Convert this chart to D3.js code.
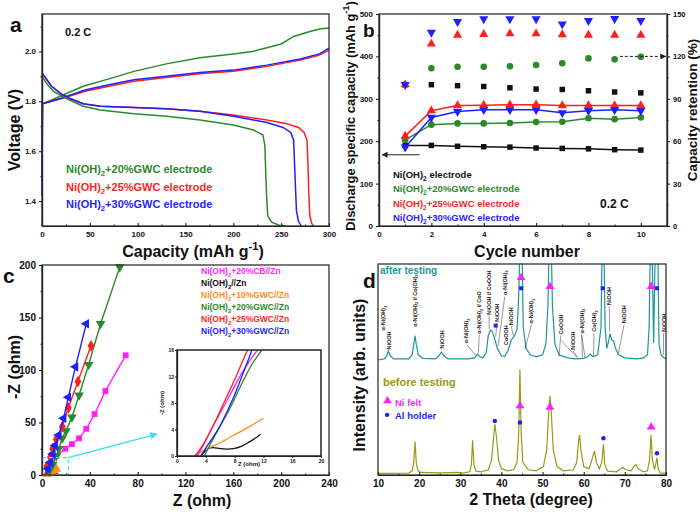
<!DOCTYPE html>
<html>
<head>
<meta charset="utf-8">
<script src="https://cdn.jsdelivr.net/npm/d3@7"></script>
<style>
  body { margin: 0; background: #fff; }
  svg { font-family: "Liberation Sans", Arial, sans-serif; font-weight: bold; }
</style>
</head>
<body>
<div id="fig"></div>
<script>
// ---------- panel a : charge / discharge curves [capacity, voltage] ----------
const greenCharge = [[0,1.5],[0.5,1.79],[10,1.805],[19,1.82],[43,1.86],[70,1.89],[96,1.92],[130,1.95],[165,1.975],[200,1.99],[220,2.0],[235,2.015],[250,2.03],[263,2.06],[280,2.08],[290,2.09],[300,2.094]];
const redCharge = [[0,1.5],[0.5,1.79],[20,1.81],[45,1.84],[70,1.86],[96,1.88],[130,1.895],[165,1.91],[200,1.92],[235,1.94],[270,1.965],[290,1.985],[300,2.005]];
const blueCharge = [[0,1.42],[0.5,1.79],[20,1.812],[45,1.845],[70,1.866],[96,1.886],[130,1.9],[165,1.915],[200,1.925],[235,1.945],[270,1.97],[290,1.99],[300,2.013]];
const greenDis = [[0,1.9],[5,1.87],[12,1.84],[26,1.81],[43,1.78],[61,1.765],[96,1.75],[130,1.74],[165,1.725],[200,1.705],[221,1.685],[231,1.665],[233,1.62],[234,1.5],[235,1.4],[236,1.34],[240,1.315],[248,1.303],[255,1.3]];
const blueDis = [[0,1.915],[10,1.86],[20,1.83],[30,1.81],[43,1.79],[61,1.78],[96,1.775],[130,1.77],[165,1.76],[200,1.74],[235,1.715],[252,1.695],[260,1.675],[263,1.645],[264,1.55],[265,1.45],[266,1.36],[268,1.32],[271,1.3]];
const redDis = [[0,1.91],[10,1.86],[20,1.83],[30,1.81],[43,1.79],[61,1.78],[96,1.775],[130,1.77],[165,1.76],[200,1.745],[235,1.725],[256,1.71],[268,1.695],[274,1.675],[277,1.645],[278,1.55],[279,1.42],[280,1.34],[282,1.31],[284,1.3]];
const legendA = ["Ni(OH)<sub>2</sub>+20%GWC electrode", "Ni(OH)<sub>2</sub>+25%GWC electrode", "Ni(OH)<sub>2</sub>+30%GWC electrode"];

// ---------- panel b : cycling ----------
const cycles = [1,2,3,4,5,6,7,8,9,10];
const capBlack = [190,190,188,187,186,184,183,182,180,179];
const capGreen = [203,239,242,242,243,245,246,254,252,256];
const capRed   = [212,272,284,285,286,286,284,284,284,284];
const capBlue  = [186,256,270,274,274,274,267,272,274,272];
const retBlack = [100,100,99.3,98.7,97.8,96.9,96.6,95.7,94.8,94.2];
const retGreen = [null,111.6,112.7,112.7,113,113.9,115.1,118.6,117.9,119.8];
const retRed   = [100,128.8,135.1,135.6,136.1,136.1,135.4,135.1,135.1,135.1];
const retBlue  = [100,137,144.6,146.5,146.5,146.5,142.9,145.3,146.7,145.3];
const legendB = ["Ni(OH)<sub>2</sub> electrode", "Ni(OH)<sub>2</sub>+20%GWC electrode", "Ni(OH)<sub>2</sub>+25%GWC electrode", "Ni(OH)<sub>2</sub>+30%GWC electrode"];

// ---------- panel c : Nyquist [Z, -Z] ----------
const nyqMagenta = [[3,0],[5,5],[8,12],[12,18],[19.5,25],[25,29.5],[31,35],[37,44],[44,58],[53,80],[70,114]];
const nyqBlack   = [[3.3,0],[4.5,1.1],[7,1],[9,1.5],[11.6,3.3]];
const nyqOrange  = [[2.4,0],[4,1],[6,2],[8,3.2],[10,4.4],[12,5.7]];
const nyqGreen   = [[3.8,0],[6,4],[9,10],[12,18],[14,25],[17,35],[20,42],[25,55],[31,76],[39,105],[49,144],[65,198]];
const nyqRed     = [[2.5,0],[4,8],[7,17],[9,25],[12,34],[17,46],[22,64],[30,89],[41,123]];
const nyqBlue    = [[3.3,0],[5,6],[7,12],[9,20],[11,28],[14,38],[18,54],[22,74],[28,103],[37,144]];
// inset (zoom of low Z region)
const insBlack   = [[3.3,0],[3.8,0.6],[4.3,1.1],[5,1.25],[6,1.1],[7,1.05],[8,1.15],[9,1.5],[10,2.1],[11,2.8],[11.6,3.3]];
const insOrange  = [[2.4,0],[3,0.4],[4,1.0],[6,2.0],[8,3.2],[10,4.4],[12,5.7]];
const insMagenta = [[2.8,0],[3.5,1.3],[4.5,3.5],[6,6.5],[7.5,9.5],[9,12.5],[10.5,15],[11.2,16]];
const insRed     = [[2.5,0],[3.5,1.5],[5,4.5],[6.5,8],[8,11.5],[9.3,14.8],[9.8,16]];
const insBlue    = [[3.3,0],[4,1.2],[5,2.8],[6,4.6],[7,6.8],[8,9.2],[9,12],[10,14.8],[10.4,16]];
const insGreen   = [[3.8,0],[4.5,1.5],[5.5,3.5],[6.5,5.5],[7.5,7.5],[8.5,9.8],[9.5,12],[10.5,14],[11.8,16]];
const legendC = ["Ni(OH)<sub>2</sub>+20%CB//Zn", "Ni(OH)<sub>2</sub>//Zn", "Ni(OH)<sub>2</sub>+10%GWC//Zn", "Ni(OH)<sub>2</sub>+20%GWC//Zn", "Ni(OH)<sub>2</sub>+25%GWC//Zn", "Ni(OH)<sub>2</sub>+30%GWC//Zn"];

// ---------- panel d : XRD [2theta, intensity (arb.)] ----------
const xrdBefore = [[10,0.8],[17.5,0.9],[18.3,2],[18.7,6],[19.0,16],[19.3,6],[19.7,2],[20.5,1.2],[25,1],[29.5,1.2],[30,0.8],[32.3,1.5],[32.7,5],[33.0,16.5],[33.3,5],[33.8,1.8],[35,1.5],[36.8,2.5],[37.6,7],[38.1,18],[38.4,24],[38.8,18],[39.3,7],[40,3],[41.5,2],[43,2.5],[43.8,6],[44.2,20],[44.5,50],[44.8,20],[45.2,6],[46.5,2.5],[48.5,2],[50.2,4],[51.0,12],[51.5,30],[51.8,37.5],[52.1,30],[52.6,12],[53.5,4],[55,2],[57.5,2.5],[58.3,6],[58.8,17],[59.0,19],[59.3,12],[60,4],[61.3,3],[62.1,8],[62.6,11.5],[63.1,6],[63.8,3],[64.4,6],[64.8,14.7],[65.1,5],[65.8,1.8],[68,1.5],[69,3],[69.5,3.7],[70.2,2.5],[71.5,2],[72.4,4.5],[72.7,5],[73.2,3],[74.5,1.5],[75.5,2],[76.0,7],[76.35,19],[76.7,7],[77.2,2.5],[77.6,6],[77.8,8.2],[78.1,3],[78.6,1],[80,0.8]];
const xrdAfter = [[10,54.5],[11.5,55],[12.0,56],[12.5,58.8],[13.0,56.5],[13.8,55],[17.5,55],[18.3,57],[18.7,62],[19.0,66],[19.3,62],[19.8,57],[20.8,55.3],[24,55],[24.8,56.5],[25.4,58.3],[26.0,56.5],[27,55],[32,55],[33.5,55.5],[34.2,57.3],[34.8,56],[35.5,55.5],[36.3,58],[36.8,66],[37.3,68.7],[37.8,68],[38.3,65],[39.0,60],[40.0,56.5],[40.8,56.2],[41.6,59],[42.4,64],[43.2,66],[43.8,69],[44.2,85],[44.5,110],[45.0,110],[45.3,70],[46.0,60],[47,57],[48.5,56],[50.0,57],[50.8,62],[51.3,80],[51.6,110],[52.1,110],[52.4,80],[53.0,62],[54,57],[56,55.5],[58,55],[60,55.3],[61,56],[61.6,57.4],[62.2,56],[63.4,57],[64.2,70],[64.5,110],[64.9,110],[65.2,70],[65.6,60],[66.0,63],[66.4,67],[66.8,64],[67.3,63.5],[67.7,60],[68.5,57],[70,55.5],[73,55],[74.5,55.5],[75.5,57],[75.9,70],[76.2,110],[76.6,110],[77.0,62.5],[77.4,110],[78.0,110],[78.3,62],[78.8,57],[79.5,55.5],[80,55]];
const niFeltBefore = [[44.5,32.4],[51.8,31.8],[76.4,22.4]];
const alBefore = [[38.4,25.6],[44.5,24.9],[64.8,17.4],[77.8,10.3]];
const niFeltAfter = [[44.8,93.2],[51.8,89],[76.4,89]];
const alAfter = [[44.8,88.5],[38.6,70.8],[64.6,88.5],[77.8,88.5]];
// peak labels: text, 2theta, intensity at label start
const peakText = ["NiOOH","α-Ni(OH)<sub>2</sub>","α-Ni(OH)<sub>2</sub> // Co(OH)<sub>2</sub>","NiOOH","α-Ni(OH)<sub>2</sub>","α-Ni(OH)<sub>2</sub> // CoO","NiOOH // CoOOH","NiOOH","α-Ni(OH)<sub>2</sub>","CoOOH","NiOOH","α-Ni(OH)<sub>2</sub>","CoOOH","NiOOH","α-Ni(OH)<sub>2</sub>","Co(OH)<sub>2</sub>","NiOOH","NiOOH","NiOOH"];
const peakX = [12.6,11.3,18.9,25.5,31.4,34.6,37.0,38.9,40.8,41.0,42.4,47.3,54.4,57.4,59.5,62.5,66.2,69.8,79.4];
const peakY = [59.5,68.5,70.3,60,62.4,67,76,72.6,85.3,61.6,71,71.8,66.6,59.4,67.1,67.9,80.6,71.9,67.9];
const leaderLines = [[31.6,61.8,33.8,56.5],[34.6,66.5,34.4,57.8],[37.0,75.5,37.0,69.2],[38.9,72,38.6,65.5],[40.8,84.5,39.2,61],[42.4,70.5,42.9,66],[47.3,71.3,45.7,59.5],[54.4,66,54.0,56.2],[54.4,64,58.4,55.6],[57.4,58.8,58.6,55.6],[59.5,66.5,59.7,55.6],[59.5,66.5,60.3,55.7],[62.5,67.3,62.4,56.5],[66.2,80,66.3,68],[69.8,71.3,68.4,57.5],[79.4,67.3,79.4,57]];

// ---------- colours ----------
const cGreen = "#2a8a2a", cRed = "#ff1f1f", cBlue = "#1f1fff", cMag = "#ff1fff",
      cOrange = "#ff8c1a", cTeal = "#1f9696", cOlive = "#99991a", cCyan = "#38dcec";

const svg = d3.select("#fig").append("svg").attr("width", 700).attr("height", 515);
svg.append("rect").attr("width", 700).attr("height", 515).attr("fill", "#fff");

const defs = svg.append("defs");
function arrowMarker(id, color) {
  defs.append("marker").attr("id", id).attr("viewBox", "0 0 10 10")
    .attr("refX", 9).attr("refY", 5).attr("markerWidth", 6).attr("markerHeight", 6)
    .attr("orient", "auto")
    .append("path").attr("d", "M0,0 L10,5 L0,10 z").attr("fill", color);
}
arrowMarker("arK", "#222");
arrowMarker("arC", cCyan);

// text with <sub>/<sup> markup
function rich(t, s, size) {
  const re = /<(sub|sup)>(.*?)<\/(?:sub|sup)>/g;
  let last = 0, m, pending = 0;
  const add = (txt, dy, fs) => {
    const sp = t.append("tspan").text(txt);
    if (dy) sp.attr("dy", dy);
    if (fs) sp.attr("font-size", fs);
  };
  while ((m = re.exec(s))) {
    if (m.index > last) { add(s.slice(last, m.index), pending); pending = 0; }
    const sh = m[1] === "sub" ? size * 0.3 : -size * 0.45;
    add(m[2], pending + sh, size * 0.7);
    pending = -sh;
    last = re.lastIndex;
  }
  if (last < s.length) add(s.slice(last), pending);
  return t;
}

function styleAxis(g, fs) {
  g.select(".domain").attr("stroke", "#222").attr("stroke-width", 1.2);
  g.selectAll(".tick line").attr("stroke", "#222").attr("stroke-width", 1.1);
  g.selectAll(".tick text").attr("font-size", fs).attr("font-weight", "bold").attr("fill", "#111")
    .attr("font-family", '"Liberation Sans", Arial, sans-serif');
  return g;
}
function frame(x0, y0, x1, y1, w) {
  svg.append("rect").attr("x", x0).attr("y", y0).attr("width", x1 - x0).attr("height", y1 - y0)
    .attr("fill", "none").attr("stroke", "#222").attr("stroke-width", w || 1.2);
}
function title(x, y, txt, size, rot) {
  const t = svg.append("text").attr("text-anchor", "middle").attr("font-size", size).attr("fill", "#111");
  if (rot) t.attr("transform", `translate(${x},${y}) rotate(-90)`);
  else t.attr("x", x).attr("y", y);
  return rich(t, txt, size);
}
// major (labelled) + minor ticks; x ticks point inward, y ticks outward
function xAxis(scale, y0, major, minor, fs, fmt) {
  const a = d3.axisBottom(scale).tickValues(major).tickSize(-3).tickSizeOuter(0).tickPadding(5);
  if (fmt) a.tickFormat(fmt);
  styleAxis(svg.append("g").attr("transform", `translate(0,${y0})`).call(a), fs);
  if (minor) styleAxis(svg.append("g").attr("transform", `translate(0,${y0})`)
    .call(d3.axisBottom(scale).tickValues(minor).tickSize(-1.5).tickSizeOuter(0).tickFormat("")), fs);
}
function yAxis(scale, x0, major, minor, fs, fmt, right) {
  const mk = right ? d3.axisRight : d3.axisLeft;
  const a = mk(scale).tickValues(major).tickSize(3).tickSizeOuter(0).tickPadding(3);
  if (fmt) a.tickFormat(fmt);
  styleAxis(svg.append("g").attr("transform", `translate(${x0},0)`).call(a), fs);
  if (minor) styleAxis(svg.append("g").attr("transform", `translate(${x0},0)`)
    .call(mk(scale).tickValues(minor).tickSize(1.5).tickSizeOuter(0).tickFormat("")), fs);
}
function symPath(type, size) { return d3.symbol().type(type).size(size)(); }
const symbols = {
  square: [d3.symbolSquare, 0], circle: [d3.symbolCircle, 0], up: [d3.symbolTriangle, 0],
  down: [d3.symbolTriangle, 180], diamond: [d3.symbolDiamond, 0], left: [d3.symbolTriangle, -90]
};
function markers(g, pts, x, y, shape, color, size) {
  const [type, rot] = symbols[shape];
  g.selectAll(null).data(pts).join("path")
    .attr("d", symPath(type, size))
    .attr("transform", d => `translate(${x(d[0])},${y(d[1])}) rotate(${rot})`)
    .attr("fill", color);
}

// ================= panel a =================
{
  const x = d3.scaleLinear().domain([0, 300]).range([42, 329]);
  const y = d3.scaleLinear().domain([1.3, 2.15]).range([226, 14]);
  xAxis(x, 226, [0,50,100,150,200,250,300], [25,75,125,175,225,275], 8);
  yAxis(y, 42, [1.4,1.6,1.8,2.0], [1.5,1.7,1.9,2.1], 8, d3.format(".1f"));

  const line = d3.line().x(d => x(d[0])).y(d => y(d[1]));
  [[greenCharge, cGreen], [redCharge, cRed], [blueCharge, cBlue],
   [greenDis, cGreen], [redDis, cRed], [blueDis, cBlue]].forEach(([d, c]) => {
    svg.append("path").datum(d).attr("d", line).attr("fill", "none").attr("stroke", c).attr("stroke-width", 1.5);
  });
  frame(42, 14, 329, 226);

  [cGreen, cRed, cBlue].forEach((c, i) => {
    rich(svg.append("text").attr("x", 66).attr("y", 173 + i * 17.5).attr("font-size", 11).attr("fill", c), legendA[i], 11);
  });
  svg.append("text").attr("x", 65).attr("y", 36).attr("font-size", 11).attr("fill", "#111").text("0.2 C");
  svg.append("text").attr("x", 10).attr("y", 32).attr("font-size", 21).attr("fill", "#111").text("a");
  title(20, 130, "Voltage (V)", 16, true);
  title(193, 257, "Capacity (mAh g<sup>-1</sup>)", 16);
}

// ================= panel b =================
{
  const x = d3.scaleLinear().domain([0, 11]).range([379, 667]);
  const y = d3.scaleLinear().domain([0, 500]).range([226, 14]);
  const yr = d3.scaleLinear().domain([0, 150]).range([226, 14]);
  xAxis(x, 226, [0,2,4,6,8,10], [1,3,5,7,9], 8);
  yAxis(y, 379, [0,100,200,300,400,500], [50,150,250,350,450], 8);
  yAxis(yr, 667, [0,30,60,90,120,150], [15,45,75,105,135], 7.5, null, true);

  const pl = svg.append("g");
  const line = d3.line().x(d => x(d[0])).y(d => y(d[1]));
  const caps = [[capBlack, "#111", "square", 30], [capGreen, cGreen, "circle", 34], [capRed, cRed, "up", 36], [capBlue, cBlue, "down", 36]];
  caps.forEach(([v, c]) => {
    pl.append("path").datum(cycles.map((k, i) => [k, v[i]])).attr("d", line)
      .attr("fill", "none").attr("stroke", c).attr("stroke-width", 1.5);
  });
  caps.forEach(([v, c, s, sz]) => markers(pl, cycles.map((k, i) => [k, v[i]]), x, y, s, c, sz));
  const rets = [[retBlack, "#111", "square", 30], [retGreen, cGreen, "circle", 34], [retRed, cRed, "up", 36], [retBlue, cBlue, "down", 36]];
  rets.forEach(([v, c, s, sz]) => markers(pl, cycles.map((k, i) => [k, v[i]]).filter(d => d[1] != null), x, yr, s, c, sz));

  // arrows
  svg.append("line").attr("x1", x(1.55)).attr("x2", x(0.12)).attr("y1", y(168)).attr("y2", y(168))
    .attr("stroke", "#222").attr("stroke-width", 1).attr("marker-end", "url(#arK)");
  svg.append("line").attr("x1", x(9.2)).attr("x2", x(10.95)).attr("y1", yr(120)).attr("y2", yr(120))
    .attr("stroke", "#222").attr("stroke-width", 1).attr("stroke-dasharray", "3,2").attr("marker-end", "url(#arK)");
  frame(379, 14, 667, 226);

  ["#111", cGreen, cRed, cBlue].forEach((c, i) => {
    rich(svg.append("text").attr("x", 393).attr("y", 178 + i * 14.4).attr("font-size", 9.5).attr("fill", c), legendB[i], 9.5);
  });
  svg.append("text").attr("x", 600).attr("y", 208).attr("font-size", 12).attr("fill", "#111").text("0.2 C");
  svg.append("text").attr("x", 363).attr("y", 37).attr("font-size", 19).attr("fill", "#111").text("b");
  title(355, 116, "Discharge specific capacity (mAh g<sup>-1</sup>)", 12.9, true);
  title(697, 110, "Capacity retention (%)", 13.5, true);
  title(527, 257, "Cycle number", 16);
}

// ================= panel c =================
{
  const x = d3.scaleLinear().domain([0, 240]).range([42, 329]);
  const y = d3.scaleLinear().domain([0, 200]).range([475, 265]);
  xAxis(x, 475, [0,40,80,120,160,200,240], [20,60,100,140,180,220], 10);
  yAxis(y, 42, [0,50,100,150,200], [25,75,125,175], 10);

  const pl = svg.append("g");
  const line = d3.line().x(d => x(d[0])).y(d => y(d[1]));
  const ser = [[nyqMagenta, cMag, "square", 34], [nyqBlack, "#111", "square", 20], [nyqOrange, cOrange, "up", 40],
               [nyqGreen, cGreen, "down", 40], [nyqRed, cRed, "diamond", 40], [nyqBlue, cBlue, "left", 40]];
  ser.forEach(([d, c, s, sz]) => {
    pl.append("path").datum(d).attr("d", line).attr("fill", "none").attr("stroke", c).attr("stroke-width", 1.4);
    markers(pl, d.slice(1), x, y, s, c, sz);
  });
  // zoom box and arrow
  svg.append("rect").attr("x", x(0)).attr("y", y(16.5)).attr("width", x(22) - x(0)).attr("height", y(0) - y(16.5))
    .attr("fill", "none").attr("stroke", cCyan).attr("stroke-width", 1.2).attr("stroke-dasharray", "4,3");
  svg.append("line").attr("x1", x(22)).attr("y1", y(16.5)).attr("x2", x(96)).attr("y2", y(39))
    .attr("stroke", cCyan).attr("stroke-width", 1.2).attr("marker-end", "url(#arC)");
  frame(42, 265, 329, 475);

  [cMag, "#111", cOrange, cGreen, cRed, cBlue].forEach((c, i) => {
    rich(svg.append("text").attr("x", 201).attr("y", 274 + i * 12).attr("font-size", 8.5).attr("fill", c), legendC[i], 8.5);
  });

  // inset
  const xi = d3.scaleLinear().domain([0, 20]).range([177, 321]);
  const yi = d3.scaleLinear().domain([0, 16]).range([456, 350]);
  svg.append("rect").attr("x", 177).attr("y", 350).attr("width", 144).attr("height", 106).attr("fill", "#fff");
  styleAxis(svg.append("g").attr("transform", "translate(0,456)")
    .call(d3.axisBottom(xi).tickValues([0,4,8,12,16,20]).tickSize(2).tickSizeOuter(0).tickPadding(1)), 5);
  styleAxis(svg.append("g").attr("transform", "translate(177,0)")
    .call(d3.axisLeft(yi).tickValues([0,4,8,12,16]).tickSize(2).tickSizeOuter(0).tickPadding(1)), 5);
  const clip = defs.append("clipPath").attr("id", "insetClip");
  clip.append("rect").attr("x", 177).attr("y", 350).attr("width", 144).attr("height", 106);
  const ig = svg.append("g").attr("clip-path", "url(#insetClip)");
  const iline = d3.line().x(d => xi(d[0])).y(d => yi(d[1])).curve(d3.curveCatmullRom);
  [[insBlack, "#111"], [insOrange, cOrange], [insMagenta, cMag], [insGreen, cGreen], [insBlue, cBlue], [insRed, cRed]]
    .forEach(([d, c]) => ig.append("path").datum(d).attr("d", iline).attr("fill", "none").attr("stroke", c).attr("stroke-width", 1.3));
  frame(177, 350, 321, 456, 1.5);
  title(249, 466, "Z (ohm)", 6);
  title(164, 403, "-Z (ohm)", 6, true);

  svg.append("text").attr("x", 3).attr("y", 283).attr("font-size", 21).attr("fill", "#111").text("c");
  title(20, 367, "-Z (ohm)", 16, true);
  title(202, 506, "Z (ohm)", 16);
}

// ================= panel d =================
{
  const x = d3.scaleLinear().domain([10, 80]).range([378, 666]);
  const y = d3.scaleLinear().domain([0, 100]).range([475, 264]);
  xAxis(x, 475, [10,20,30,40,50,60,70,80], [15,25,35,45,55,65,75], 10);

  const clip = defs.append("clipPath").attr("id", "dClip");
  clip.append("rect").attr("x", 378).attr("y", 264).attr("width", 288).attr("height", 211);
  const pl = svg.append("g").attr("clip-path", "url(#dClip)");
  const line = d3.line().x(d => x(d[0])).y(d => y(d[1]));
  pl.append("path").datum(xrdBefore).attr("d", line).attr("fill", "none").attr("stroke", cOlive).attr("stroke-width", 1.2);
  pl.append("path").datum(xrdAfter).attr("d", line).attr("fill", "none").attr("stroke", cTeal).attr("stroke-width", 1.2);

  // leader lines and peak labels
  leaderLines.forEach(l => pl.append("line").attr("x1", x(l[0])).attr("y1", y(l[1])).attr("x2", x(l[2])).attr("y2", y(l[3]))
    .attr("stroke", "#333").attr("stroke-width", 0.5));
  peakText.forEach((s, i) => {
    const t = pl.append("text").attr("transform", `translate(${x(peakX[i]) + 2},${y(peakY[i])}) rotate(-90)`)
      .attr("font-size", 5.5).attr("fill", "#222");
    rich(t, s, 5.5);
  });

  // reference markers
  const felt = (d, g) => {
    g.append("path").attr("d", symPath(d3.symbolTriangle, 28)).attr("transform", `translate(${x(d[0])},${y(d[1]) - 1})`).attr("fill", cMag);
    g.append("line").attr("x1", x(d[0]) - 4).attr("x2", x(d[0]) + 4).attr("y1", y(d[1]) + 1).attr("y2", y(d[1]) + 1)
      .attr("stroke", cMag).attr("stroke-width", 1.5);
  };
  niFeltBefore.forEach(d => felt(d, pl));
  niFeltAfter.forEach(d => felt(d, pl));
  pl.selectAll(null).data(alBefore).join("circle").attr("cx", d => x(d[0])).attr("cy", d => y(d[1])).attr("r", 2.2).attr("fill", cBlue);
  pl.selectAll(null).data(alAfter).join("rect").attr("x", d => x(d[0]) - 2).attr("y", d => y(d[1]) - 2)
    .attr("width", 4).attr("height", 4).attr("fill", cBlue);

  frame(378, 264, 666, 475);

  svg.append("text").attr("x", 380).attr("y", 274).attr("font-size", 10).attr("fill", cTeal).text("after testing");
  svg.append("text").attr("x", 383).attr("y", 386).attr("font-size", 11).attr("fill", cOlive).text("before testing");
  felt([12.3, 34.8], svg);
  svg.append("text").attr("x", 395).attr("y", 406).attr("font-size", 9.5).attr("fill", cMag).text("Ni felt");
  svg.append("circle").attr("cx", x(12.2)).attr("cy", y(28.5)).attr("r", 2.2).attr("fill", cBlue);
  svg.append("text").attr("x", 395).attr("y", 419).attr("font-size", 9.5).attr("fill", cBlue).text("Al holder");

  svg.append("text").attr("x", 363).attr("y", 288).attr("font-size", 21).attr("fill", "#111").text("d");
  title(365, 375, "Intensity (arb. units)", 16, true);
  title(531, 505, "2 Theta (degree)", 16);
}
</script>
</body>
</html>
